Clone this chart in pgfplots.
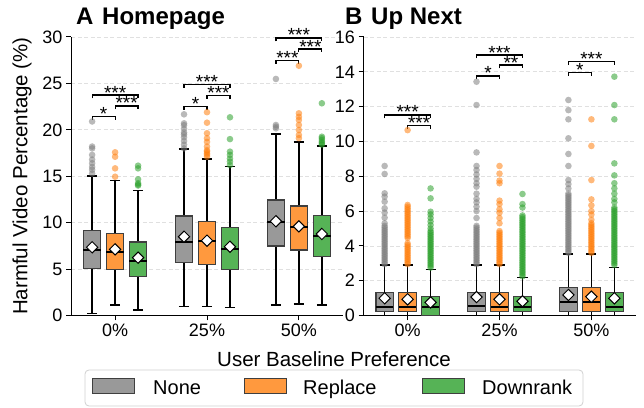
\documentclass[border=0pt]{standalone}
\usepackage{fontspec}
\setmainfont{Liberation Sans}
\usepackage{pgfplots}
\pgfplotsset{compat=1.18}
\usepgfplotslibrary{statistics}
\definecolor{cN}{HTML}{999999}
\definecolor{cR}{HTML}{FF993E}
\definecolor{cD}{HTML}{56B356}
\definecolor{oN}{HTML}{7F7F7F}
\definecolor{oR}{HTML}{FF7F0E}
\definecolor{oD}{HTML}{2CA02C}
\definecolor{edge}{HTML}{3F3F3F}
\pgfplotsset{
  base/.style={anchor=south west, scale only axis, width=272bp, height=278.5bp,
    xmin=-0.48, xmax=2.48, clip=false,
    axis x line*=bottom, axis y line*=left,
    axis line style={black, line width=1bp},
    tick align=outside, major tick length=5bp,
    tick style={black, line width=1bp},
    xtick={0,1,2}, xticklabels={0\%,25\%,50\%},
    tick label style={font=\fontsize{18bp}{20bp}\selectfont},
    /pgf/number format/assume math mode=true,
    ymajorgrids, grid style={dash pattern=on 4bp off 2.5bp, black!12, line width=0.7bp},
  },
  common/.style={line width=1.2bp, draw=edge, mark=none,
    boxplot/draw direction=y,
    boxplot/box extend=0.19, boxplot/whisker extend=0.11,
    boxplot/every median/.style={draw=black, line width=2.2bp},
    boxplot/every whisker/.style={draw=black, line width=1.4bp}},
  sN/.style={common, fill=cN},
  sR/.style={common, fill=cR},
  sD/.style={common, fill=cD},
  outl/.style={only marks, mark=*, mark size=3.3bp, mark options={draw=#1, draw opacity=0, line width=0pt, fill=#1, fill opacity=0.55}},
  meanst/.style={only marks, mark=square*, mark size=4bp,
    mark options={rotate=45, fill=white, draw=black, line width=1bp}},
  brk/.style={black, line width=1.2bp},
}
\tikzset{star/.style={font=\fontsize{19bp}{19bp}\selectfont, inner sep=0pt, anchor=base, yshift=-4bp}}
\begin{document}
\begin{tikzpicture}
\useasboundingbox (0,0) rectangle (644bp,408bp);
% ---------------- A: Homepage ----------------
\begin{axis}[base, at={(71bp,92.5bp)}, ymin=0, ymax=30, ytick={0,5,...,30}]
\addplot[sN, boxplot prepared={draw position=-0.25, lower whisker=0.23, lower quartile=5.08, median=7.06, upper quartile=9.14, upper whisker=15.03}] coordinates {};
\addplot[sR, boxplot prepared={draw position=0, lower whisker=1.13, lower quartile=4.97, median=6.87, upper quartile=8.85, upper whisker=14.52}] coordinates {};
\addplot[sD, boxplot prepared={draw position=0.25, lower whisker=0.59, lower quartile=4.18, median=5.87, upper quartile=7.92, upper whisker=13.45}] coordinates {};
\addplot[sN, boxplot prepared={draw position=0.75, lower whisker=0.95, lower quartile=5.73, median=7.95, upper quartile=10.72, upper whisker=17.94}] coordinates {};
\addplot[sR, boxplot prepared={draw position=1, lower whisker=0.95, lower quartile=5.51, median=8.03, upper quartile=10.1, upper whisker=16.86}] coordinates {};
\addplot[sD, boxplot prepared={draw position=1.25, lower whisker=0.84, lower quartile=4.97, median=7.13, upper quartile=9.5, upper whisker=16.03}] coordinates {};
\addplot[sN, boxplot prepared={draw position=1.75, lower whisker=1.13, lower quartile=7.49, median=10.1, upper quartile=12.44, upper whisker=19.55}] coordinates {};
\addplot[sR, boxplot prepared={draw position=2, lower whisker=1.24, lower quartile=7.06, median=9.5, upper quartile=11.8, upper whisker=18.69}] coordinates {};
\addplot[sD, boxplot prepared={draw position=2.25, lower whisker=1.13, lower quartile=6.34, median=8.6, upper quartile=10.75, upper whisker=18.26}] coordinates {};
% outliers
\addplot[outl=oN] coordinates {(-0.25,15.3) (-0.25,15.7) (-0.25,16.0) (-0.25,16.4) (-0.25,16.8) (-0.25,17.3) (-0.25,18.0) (-0.25,18.2) (-0.25,20.9)
 (0.75,18.0) (0.75,18.4) (0.75,18.8) (0.75,19.2) (0.75,19.5) (0.75,19.7) (0.75,20.1) (0.75,20.5) (0.75,20.7) (0.75,21.67)
 (1.75,20.16) (1.75,20.34) (1.75,20.52) (1.75,25.48)};
\addplot[outl=oR] coordinates {(0,14.95) (0,15.85) (0,17.1) (0,17.58)
 (1,17.1) (1,17.3) (1,17.47) (1,17.65) (1,17.8) (1,18.2) (1,18.7) (1,19.1) (1,19.63) (1,20.77) (1,21.9)
 (2,19.1) (2,19.45) (2,19.98) (2,20.52) (2,21.06) (2,21.4) (2,21.78) (2,26.9)};
\addplot[outl=oD] coordinates {(0.25,14.0) (0.25,14.1) (0.25,14.25) (0.25,14.67) (0.25,15.85) (0.25,16.14)
 (1.25,16.2) (1.25,16.57) (1.25,16.9) (1.25,17.3) (1.25,17.65) (1.25,19.0) (1.25,21.35)
 (2.25,18.4) (2.25,18.55) (2.25,18.7) (2.25,18.9) (2.25,19.1) (2.25,19.26) (2.25,22.86)};
% means
\addplot[meanst] coordinates {(-0.25,7.35) (0,7.13) (0.25,6.23) (0.75,8.49) (1,8.06) (1.25,7.41) (1.75,10.15) (2,9.6) (2.25,8.78)};
% brackets
\addplot[brk] coordinates {(-0.25,21.06) (-0.25,21.42) (0,21.42) (0,21.06)};
\addplot[brk] coordinates {(0,22.21) (0,22.57) (0.25,22.57) (0.25,22.21)};
\addplot[brk] coordinates {(-0.25,23.39) (-0.25,23.75) (0.25,23.75) (0.25,23.39)};
\addplot[brk] coordinates {(0.75,22.14) (0.75,22.5) (1,22.5) (1,22.14)};
\addplot[brk] coordinates {(1,23.34) (1,23.7) (1.25,23.7) (1.25,23.34)};
\addplot[brk] coordinates {(0.75,24.54) (0.75,24.9) (1.25,24.9) (1.25,24.54)};
\addplot[brk] coordinates {(1.75,27.14) (1.75,27.5) (2,27.5) (2,27.14)};
\addplot[brk] coordinates {(2,28.34) (2,28.7) (2.25,28.7) (2.25,28.34)};
\addplot[brk] coordinates {(1.75,29.54) (1.75,29.9) (2.25,29.9) (2.25,29.54)};
\node[star] at (axis cs:-0.125,21.42) {*};
\node[star] at (axis cs:0.125,22.57) {***};
\node[star] at (axis cs:0,23.75) {***};
\node[star] at (axis cs:0.875,22.5) {*};
\node[star] at (axis cs:1.125,23.7) {***};
\node[star] at (axis cs:1,24.9) {***};
\node[star] at (axis cs:1.875,27.5) {***};
\node[star] at (axis cs:2.125,28.7) {***};
\node[star] at (axis cs:2,29.9) {***};
\end{axis}
% ---------------- B: Up Next ----------------
\begin{axis}[base, at={(363.5bp,92.5bp)}, ymin=0, ymax=16, ytick={0,2,...,16}]
\addplot[sN, boxplot prepared={draw position=-0.25, lower whisker=0, lower quartile=0.22, median=0.51, upper quartile=1.33, upper whisker=2.9}] coordinates {};
\addplot[sR, boxplot prepared={draw position=0, lower whisker=0, lower quartile=0.22, median=0.51, upper quartile=1.33, upper whisker=2.9}] coordinates {};
\addplot[sD, boxplot prepared={draw position=0.25, lower whisker=0, lower quartile=0, median=0.51, upper quartile=1.08, upper whisker=2.65}] coordinates {};
\addplot[sN, boxplot prepared={draw position=0.75, lower whisker=0, lower quartile=0.22, median=0.53, upper quartile=1.33, upper whisker=2.9}] coordinates {};
\addplot[sR, boxplot prepared={draw position=1, lower whisker=0, lower quartile=0.22, median=0.51, upper quartile=1.33, upper whisker=2.9}] coordinates {};
\addplot[sD, boxplot prepared={draw position=1.25, lower whisker=0, lower quartile=0.22, median=0.51, upper quartile=1.08, upper whisker=2.19}] coordinates {};
\addplot[sN, boxplot prepared={draw position=1.75, lower whisker=0, lower quartile=0.22, median=0.79, upper quartile=1.6, upper whisker=3.53}] coordinates {};
\addplot[sR, boxplot prepared={draw position=2, lower whisker=0, lower quartile=0.22, median=0.79, upper quartile=1.6, upper whisker=3.53}] coordinates {};
\addplot[sD, boxplot prepared={draw position=2.25, lower whisker=0, lower quartile=0.22, median=0.51, upper quartile=1.31, upper whisker=2.77}] coordinates {};
% outliers None
\addplot[outl=oN] coordinates {(-0.25,2.95) (-0.25,3.05) (-0.25,3.15) (-0.25,3.25) (-0.25,3.35) (-0.25,3.45) (-0.25,3.55) (-0.25,3.65) (-0.25,3.75) (-0.25,3.85) (-0.25,3.95) (-0.25,4.05) (-0.25,4.15) (-0.25,4.25) (-0.25,4.35) (-0.25,4.45) (-0.25,4.55) (-0.25,4.65) (-0.25,4.75) (-0.25,4.85) (-0.25,4.95) (-0.25,5.05) (-0.25,5.15) (-0.25,5.3) (-0.25,5.62) (-0.25,5.91) (-0.25,6.16) (-0.25,6.54) (-0.25,6.83) (-0.25,7.02) (-0.25,8.13) (-0.25,8.59)
 (0.75,2.95) (0.75,3.05) (0.75,3.15) (0.75,3.25) (0.75,3.35) (0.75,3.45) (0.75,3.55) (0.75,3.65) (0.75,3.75) (0.75,3.85) (0.75,3.95) (0.75,4.05) (0.75,4.15) (0.75,4.25) (0.75,4.35) (0.75,4.45) (0.75,4.55) (0.75,4.65) (0.75,4.75) (0.75,4.85) (0.75,4.95) (0.75,5.05) (0.75,5.15) (0.75,5.6) (0.75,6.0) (0.75,6.25) (0.75,6.5) (0.75,6.7) (0.75,7.0) (0.75,7.4) (0.75,7.6) (0.75,7.85) (0.75,8.1) (0.75,8.36) (0.75,8.59) (0.75,9.37) (0.75,12.09) (0.75,13.43)
 (1.75,3.6) (1.75,3.7) (1.75,3.8) (1.75,3.9) (1.75,4.0) (1.75,4.1) (1.75,4.2) (1.75,4.3) (1.75,4.4) (1.75,4.5) (1.75,4.6) (1.75,4.7) (1.75,4.8) (1.75,4.9) (1.75,5.0) (1.75,5.1) (1.75,5.2) (1.75,5.3) (1.75,5.4) (1.75,5.5) (1.75,5.6) (1.75,5.7) (1.75,5.8) (1.75,5.9) (1.75,6.0) (1.75,6.1) (1.75,6.2) (1.75,6.3) (1.75,6.4) (1.75,6.5) (1.75,6.6) (1.75,6.7) (1.75,6.8) (1.75,6.9) (1.75,7.0) (1.75,7.3) (1.75,7.55) (1.75,7.78) (1.75,8.59) (1.75,9.28) (1.75,10.18) (1.75,11.27) (1.75,11.8) (1.75,12.38)};
% outliers Replace
\addplot[outl=oR] coordinates {(0,2.95) (0,3.05) (0,3.15) (0,3.25) (0,3.35) (0,3.45) (0,3.55) (0,3.65) (0,3.75) (0,3.85) (0,3.95) (0,4.05) (0,4.15) (0,4.45) (0,4.55) (0,4.65) (0,4.75) (0,4.85) (0,4.95) (0,5.05) (0,5.15) (0,5.25) (0,5.35) (0,5.45) (0,5.55) (0,5.65) (0,5.75) (0,5.85) (0,5.95) (0,6.05) (0,6.15) (0,6.25) (0,6.35) (0,10.65)
 (1,2.95) (1,3.05) (1,3.15) (1,3.25) (1,3.35) (1,3.45) (1,3.55) (1,3.65) (1,3.75) (1,3.85) (1,3.95) (1,4.05) (1,4.15) (1,4.25) (1,4.35) (1,4.45) (1,4.55) (1,4.65) (1,4.75) (1,4.85) (1,5.3) (1,5.6) (1,5.9) (1,6.1) (1,6.4) (1,6.6) (1,7.6) (1,7.75) (1,8.15) (1,8.59)
 (2,3.6) (2,3.7) (2,3.8) (2,3.9) (2,4.0) (2,4.1) (2,4.2) (2,4.3) (2,4.4) (2,4.5) (2,4.6) (2,4.7) (2,4.8) (2,4.9) (2,5.0) (2,5.1) (2,5.2) (2,5.3) (2,5.5) (2,5.8) (2,6.0) (2,6.33) (2,6.67) (2,7.78) (2,9.74) (2,11.27)};
% outliers Downrank
\addplot[outl=oD] coordinates {(0.25,2.75) (0.25,2.85) (0.25,2.95) (0.25,3.05) (0.25,3.15) (0.25,3.25) (0.25,3.35) (0.25,3.45) (0.25,3.55) (0.25,3.65) (0.25,3.75) (0.25,3.85) (0.25,3.95) (0.25,4.05) (0.25,4.15) (0.25,4.25) (0.25,4.35) (0.25,4.45) (0.25,4.55) (0.25,4.65) (0.25,4.75) (0.25,4.85) (0.25,5.0) (0.25,5.2) (0.25,5.4) (0.25,5.6) (0.25,5.8) (0.25,5.96) (0.25,6.73) (0.25,7.3)
 (1.25,2.25) (1.25,2.35) (1.25,2.45) (1.25,2.55) (1.25,2.65) (1.25,2.75) (1.25,2.85) (1.25,2.95) (1.25,3.05) (1.25,3.15) (1.25,3.25) (1.25,3.35) (1.25,3.45) (1.25,3.55) (1.25,3.65) (1.25,3.75) (1.25,3.85) (1.25,3.95) (1.25,4.05) (1.25,4.15) (1.25,4.25) (1.25,4.35) (1.25,4.45) (1.25,4.55) (1.25,4.65) (1.25,4.75) (1.25,4.85) (1.25,4.95) (1.25,5.05) (1.25,5.15) (1.25,5.25) (1.25,5.35) (1.25,5.45) (1.25,5.55) (1.25,5.65) (1.25,5.75) (1.25,6.2) (1.25,6.4) (1.25,6.98)
 (2.25,2.9) (2.25,3.0) (2.25,3.1) (2.25,3.2) (2.25,3.3) (2.25,3.4) (2.25,3.5) (2.25,3.6) (2.25,3.7) (2.25,3.8) (2.25,3.9) (2.25,4.0) (2.25,4.1) (2.25,4.2) (2.25,4.3) (2.25,4.4) (2.25,4.5) (2.25,4.6) (2.25,4.7) (2.25,4.8) (2.25,4.9) (2.25,5.0) (2.25,5.1) (2.25,5.2) (2.25,5.3) (2.25,5.4) (2.25,5.5) (2.25,5.6) (2.25,5.7) (2.25,5.8) (2.25,5.9) (2.25,6.0) (2.25,6.1) (2.25,6.2) (2.25,6.5) (2.25,6.7) (2.25,7.0) (2.25,7.3) (2.25,7.6) (2.25,8.05) (2.25,8.74) (2.25,11.27) (2.25,12.09) (2.25,13.72)};
% means
\addplot[meanst] coordinates {(-0.25,0.99) (0,0.93) (0.25,0.75) (0.75,1.06) (1,0.93) (1.25,0.82) (1.75,1.18) (2,1.08) (2.25,0.99)};
% brackets
\addplot[brk] coordinates {(0,10.71) (0,10.9) (0.25,10.9) (0.25,10.71)};
\addplot[brk] coordinates {(-0.25,11.33) (-0.25,11.52) (0.25,11.52) (0.25,11.33)};
\addplot[brk] coordinates {(0.75,13.57) (0.75,13.76) (1,13.76) (1,13.57)};
\addplot[brk] coordinates {(1,14.2) (1,14.39) (1.25,14.39) (1.25,14.2)};
\addplot[brk] coordinates {(0.75,14.77) (0.75,14.96) (1.25,14.96) (1.25,14.77)};
\addplot[brk] coordinates {(1.75,13.78) (1.75,13.97) (2,13.97) (2,13.78)};
\addplot[brk] coordinates {(1.75,14.39) (1.75,14.58) (2.25,14.58) (2.25,14.39)};
\node[star] at (axis cs:0.125,10.9) {***};
\node[star] at (axis cs:0,11.52) {***};
\node[star] at (axis cs:0.875,13.76) {*};
\node[star] at (axis cs:1.125,14.39) {**};
\node[star] at (axis cs:1,14.96) {***};
\node[star] at (axis cs:1.875,13.97) {*};
\node[star] at (axis cs:2,14.58) {***};
\end{axis}
% titles
\node[anchor=base west, inner sep=0pt, font=\fontsize{24bp}{24bp}\selectfont\bfseries] at (76bp,383bp) {A};
\node[anchor=base west, inner sep=0pt, font=\fontsize{24bp}{24bp}\selectfont\bfseries] at (102bp,383bp) {Homepage};
\node[anchor=base west, inner sep=0pt, font=\fontsize{24bp}{24bp}\selectfont\bfseries] at (345bp,383bp) {B};
\node[anchor=base west, inner sep=0pt, font=\fontsize{24bp}{24bp}\selectfont\bfseries] at (371bp,383bp) {Up Next};
% axis labels
\node[rotate=90, inner sep=0pt, font=\fontsize{20.5bp}{22bp}\selectfont] at (22bp,232bp) {Harmful Video Percentage (\%)};
\node[anchor=base, inner sep=0pt, font=\fontsize{20.5bp}{22bp}\selectfont] at (334bp,41.5bp) {User Baseline Preference};
% legend
\draw[black!18, line width=0.8bp, rounded corners=4bp, fill=white] (85bp,2bp) rectangle (583bp,38bp);
\draw[edge, fill=cN, line width=1bp] (92bp,14bp) rectangle (134bp,29bp);
\draw[edge, fill=cR, line width=1bp] (244bp,14bp) rectangle (286bp,29bp);
\draw[edge, fill=cD, line width=1bp] (422bp,14bp) rectangle (464bp,29bp);
\node[anchor=base west, inner sep=0pt, font=\fontsize{20bp}{22bp}\selectfont] at (153bp,14bp) {None};
\node[anchor=base west, inner sep=0pt, font=\fontsize{20bp}{22bp}\selectfont] at (303bp,14bp) {Replace};
\node[anchor=base west, inner sep=0pt, font=\fontsize{20bp}{22bp}\selectfont] at (482bp,14bp) {Downrank};
\end{tikzpicture}
\end{document}
